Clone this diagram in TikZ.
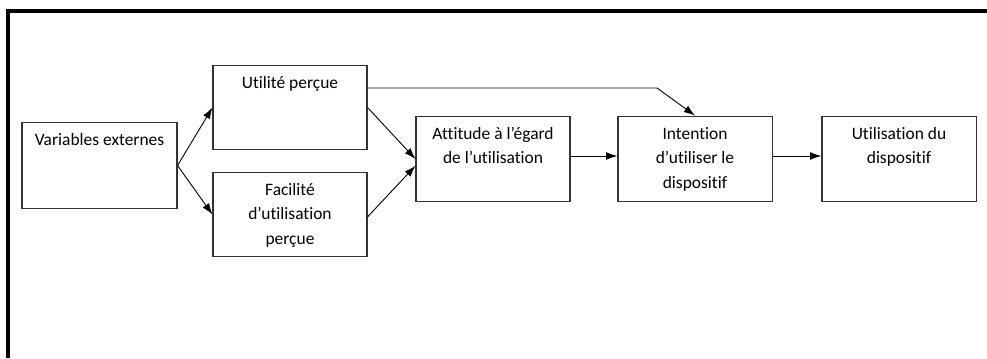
\documentclass[tikz,border=0pt]{standalone}
\usepackage{fontspec}
\setmainfont{Carlito}[Ligatures=NoCommon]
\usetikzlibrary{arrows.meta,positioning}

% box with its text set at the top
\newcommand{\boxtext}[3]{\parbox[t][#2][t]{#1}{\centering\strut #3}}

\begin{document}
\begin{tikzpicture}[x=0.025cm,y=-0.025cm,
    bloc/.style={draw=black!80,line width=0.75pt,inner xsep=0pt,inner ysep=4pt,
      font=\fontsize{12.4}{17.6}\selectfont},
    fleche/.style={line width=0.65pt,-{Latex[length=8pt,width=5.5pt]}},
    cadre/.style={line width=2.2pt}]
        \useasboundingbox (0,0) rectangle (987,358);
        % frame, top and left only
        \draw[cadre] (8,358) -- (8,11) -- (987,11);

        \node [bloc] (ext) at (99.5,165.5) {\boxtext{3.875cm}{1.89cm}{Variables externes}};
        \node [bloc] (utile) at (290,107.5) {\boxtext{3.85cm}{1.84cm}{Utilité perçue}};
        \node [bloc] (facile) at (290,214.5) {\boxtext{3.85cm}{1.84cm}{Facilité\\ d’utilisation\\ perçue}};
        \node [bloc] (attitude) at (493,159) {\boxtext{3.85cm}{1.865cm}{Attitude à l’égard\\ de l’utilisation}};
        \node [bloc] (intention) at (695,159) {\boxtext{3.85cm}{1.865cm}{Intention\\ d’utiliser le\\ dispositif}};
        \node [bloc] (usage) at (899,159) {\boxtext{3.85cm}{1.865cm}{Utilisation du\\ dispositif}};

        \coordinate (coude) at (657,88);

        \draw [fleche] (ext.east) -- (utile.west);
        \draw [fleche] (ext.east) -- (facile.west);
        \draw [fleche] (utile.east) -- (attitude.west);
        \draw [fleche] ([yshift=-0.06cm]facile.east) -- ([yshift=-0.17cm]attitude.west);
        \draw [fleche] (utile.east |- coude) -- (coude) -- (intention.north);
        \draw [fleche] ([yshift=0.075cm]attitude.east) -- ([yshift=0.075cm]intention.west);
        \draw [fleche] ([yshift=0.075cm]intention.east) -- ([yshift=0.075cm]usage.west);
\end{tikzpicture}
\end{document}
